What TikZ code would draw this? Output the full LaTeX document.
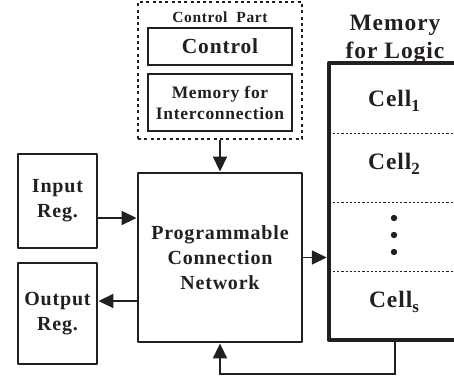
\documentclass[tikz,border=0pt]{standalone}
\usepackage{fontspec}
\setmainfont{Liberation Serif}[LetterSpace=4]
\usetikzlibrary{arrows.meta,calc}
\definecolor{ink}{HTML}{231F20}
\tikzset{
  lbl/.style={font=\bfseries, text=ink, align=center, inner sep=0pt},
  blk/.style={draw=ink, line width=2.9pt, line join=round, lbl},
  thinblk/.style={draw=ink, line width=1.4pt, lbl},
  arr/.style={draw=ink, line width=1.8pt, -{Triangle[length=15pt,width=14pt]}},
  divider/.style={draw=ink, line width=0.7pt, dash pattern=on 2.2pt off 2pt},
}
\newcommand{\fs}[2]{\fontsize{#1}{#2}\selectfont}
\newcommand{\cell}[1]{Cell\raisebox{-5.5pt}{\fs{17}{17}#1}}
\begin{document}
\begin{tikzpicture}[x=1pt,y=-1pt]
\useasboundingbox (0,0) rectangle (454,378);

% control part
\node[draw=ink, line width=2.2pt, dash pattern=on 3pt off 3.3pt,
      minimum width=164pt, minimum height=137pt] (ctlpart) at (220,70.5) {};
\node[lbl, font=\bfseries\fs{15.5}{15.5}] (ctltitle) at (220,17) {Control\ \ Part};
\node[thinblk, minimum width=144pt, minimum height=37pt, font=\bfseries\fs{21.5}{21}]
  (ctl) at (220,46.5) {Control};
\node[thinblk, minimum width=144pt, minimum height=57pt, font=\bfseries\fs{17.5}{21}]
  (mfi) at (220,102.5) {Memory for\\Interconnection};

% main blocks
\node[blk, minimum width=164pt, minimum height=169pt, font=\bfseries\fs{20}{25}]
  (pcn) at (220,257.5) {Programmable\\Connection\\Network};
\node[blk, minimum width=79pt, minimum height=94pt, font=\bfseries\fs{20}{25}]
  (inreg) at (57.5,201) {Input\\Reg.};
\node[blk, minimum width=79pt, minimum height=101pt, font=\bfseries\fs{20}{25}]
  (outreg) at (57.5,313.5) {Output\\Reg.};

% memory for logic
\node[lbl, font=\bfseries\fs{23.5}{28}] (memtitle) at (395,39) {Memory\\for Logic};
\node[draw=ink, line width=4.5pt, line join=round, minimum width=127pt, minimum height=277pt]
  (mem) at (392.5,201.5) {};
\coordinate (d1) at (mem.west |- 0,133);
\coordinate (d2) at (mem.west |- 0,202);
\coordinate (d3) at (mem.west |- 0,271);
\draw[divider] ([xshift=2pt]d1) -- ++(125,0);
\draw[divider] ([xshift=2pt]d2) -- ++(125,0);
\draw[divider] ([xshift=2pt]d3) -- ++(125,0);
\node[lbl, font=\bfseries\fs{23.5}{23}] (c1) at (394,101) {\cell{1}};
\node[lbl, font=\bfseries\fs{23.5}{23}] (c2) at (394,164) {\cell{2}};
\node[lbl, font=\bfseries\fs{23.5}{23}] (cs) at (394,302) {\cell{s}};
\foreach \yy in {218,235,252}
  \fill[ink] (394,\yy) circle (3.2pt);

% connectors
\draw[arr] (ctlpart.south) -- (pcn.north);
\coordinate (inarr) at ([yshift=-17pt]inreg.east);
\draw[arr] (inarr) -- (inarr -| pcn.west);
\coordinate (outarr) at ([yshift=-43.5pt]pcn.west);
\draw[arr] (outarr) -- (outarr -| outreg.east);
\draw[arr] (pcn.east) -- (pcn.east -| mem.west);
\coordinate (fb) at ([xshift=2.5pt]mem.south);
\draw[arr] (fb) -- ++(0,32) -| (pcn.south);
\end{tikzpicture}
\end{document}
